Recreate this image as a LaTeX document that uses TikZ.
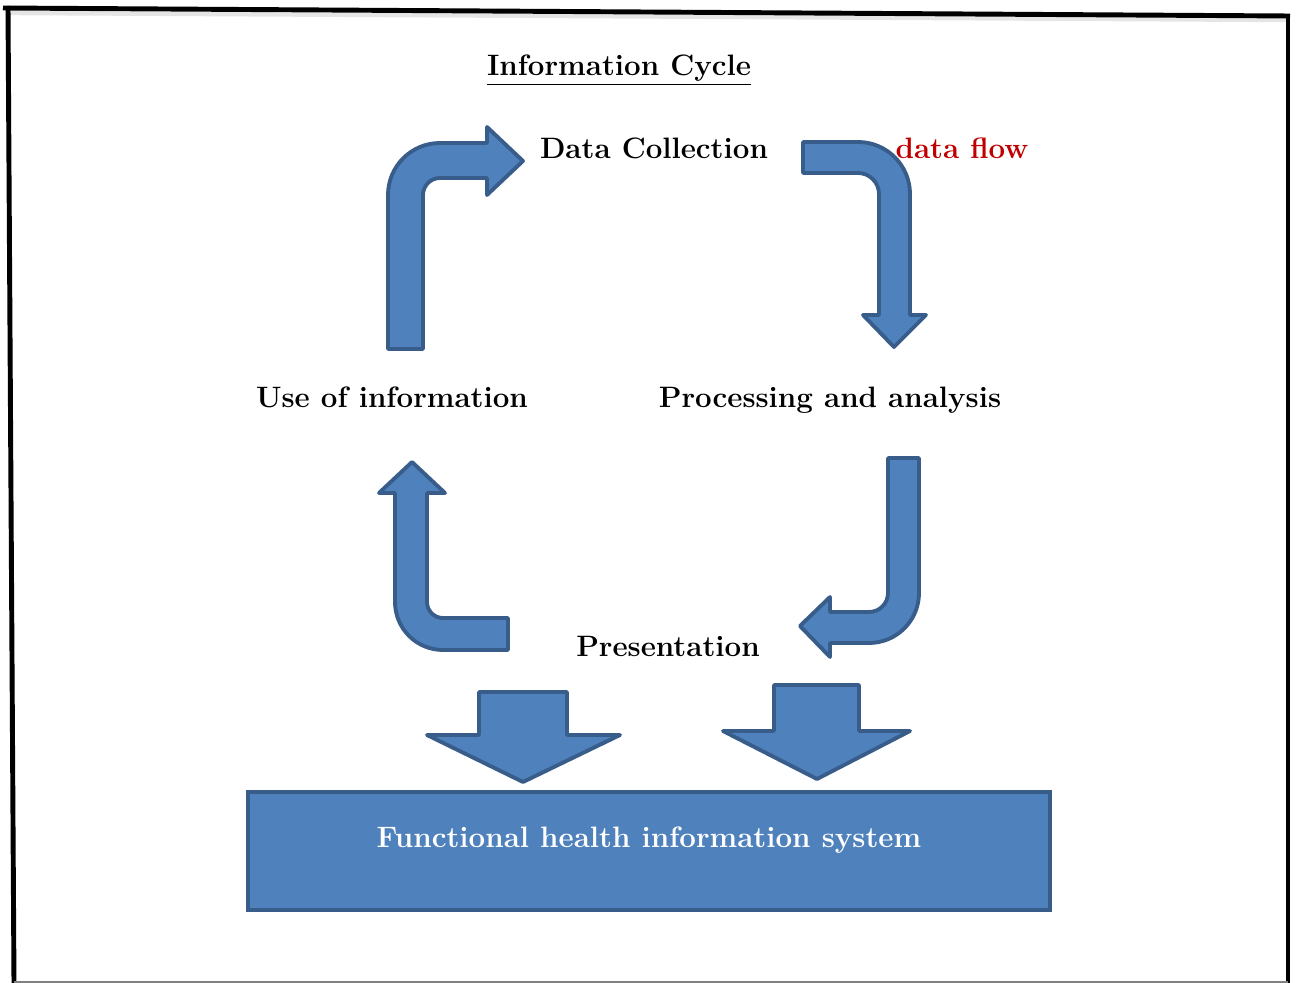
\documentclass[tikz,border=0pt]{standalone}
\usepackage{tikz}

\definecolor{arrowfill}{HTML}{4F81BD}
\definecolor{arrowline}{HTML}{385D8A}
\definecolor{flowred}{HTML}{C00000}

\begin{document}
\begin{tikzpicture}[x=0.02cm,y=-0.02cm,
    lbl/.style={font=\fontsize{16.8}{20}\selectfont\bfseries,inner sep=0pt,anchor=base},
    blk/.style={fill=arrowfill,draw=arrowline,line width=2.2pt,line join=round}]
\useasboundingbox (0,0) rectangle (1296,983);
% page frame
\draw[black!10,line width=2.5pt] (10,13) -- (1286,20);
\draw[line width=2.8pt] (3,8) -- (1290,16);
\draw[line width=2.8pt] (8,6) -- (14,983);
\draw[line width=2.8pt] (1288,14) -- (1288,983);
\draw[black!50,line width=0.8pt] (14,982) -- (1288,982);

% labels
\node[lbl] (title) at (619,76) {\underline{Information Cycle}};
\node[lbl] (dc) at (654,159) {Data Collection};
\node[lbl,text=flowred] (flow) at (962,159) {data flow};
\node[lbl] (use) at (392,408) {Use of information};
\node[lbl] (proc) at (830,408) {Processing and analysis};
\node[lbl] (pres) at (668,656) {Presentation};

% bent arrows round the cycle
\draw[blk] (388,349) -- (388,195) arc[start angle=180,end angle=270,radius=52] -- (487,143) -- (487,127) -- (523,161) -- (487,195) -- (487,178) -- (440,178) arc[start angle=270,end angle=180,radius=17] -- (423,349) -- cycle;
\draw[blk] (803,142) -- (858,142) arc[start angle=270,end angle=360,radius=52] -- (910,315) -- (926,315) -- (894,347) -- (863,315) -- (879,315) -- (879,194) arc[start angle=0,end angle=-90,radius=21] -- (803,173) -- cycle;
\draw[blk] (888,458) -- (919,458) -- (919,593) arc[start angle=0,end angle=90,radius=50] -- (830,643) -- (830,657) -- (800,626) -- (830,597) -- (830,612) -- (869,612) arc[start angle=90,end angle=0,radius=19] -- cycle;
\draw[blk] (508,650) -- (443,650) arc[start angle=90,end angle=180,radius=48] -- (395,493) -- (379,493) -- (412,462) -- (445,493) -- (427,493) -- (427,602) arc[start angle=180,end angle=90,radius=16] -- (508,618) -- cycle;

% down arrows into the system
\foreach \l/\r/\t/\b/\hl/\hr/\tx/\ty in {479/567/692/735/427/620/523/782, 774/859/685/731/723/910/817/779}
  \draw[blk] (\l,\t) -- (\r,\t) -- (\r,\b) -- (\hr,\b) -- (\tx,\ty) -- (\hl,\b) -- (\l,\b) -- cycle;

\draw[blk,line join=miter] (248,792) rectangle (1050,910);
\node[lbl,text=white] (his) at (649,847) {Functional health information system};
\end{tikzpicture}
\end{document}
